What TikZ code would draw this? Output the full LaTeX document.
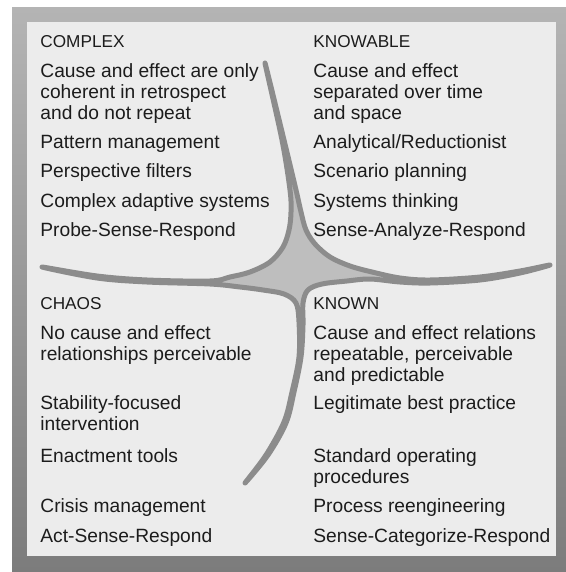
\documentclass[tikz,border=0pt]{standalone}
\usepackage{fontspec}
\setmainfont{Liberation Sans}
\definecolor{fondo}{HTML}{ECECEC}
\definecolor{marcosup}{HTML}{B4B4B4}
\definecolor{marcoinf}{HTML}{7C7C7C}
\definecolor{curva}{HTML}{8C8C8C}
\definecolor{estrella}{HTML}{BEBEBE}
\definecolor{letra}{HTML}{1C1C1C}
\tikzset{
    titulo/.style={anchor=base west,inner sep=0pt,text=letra,font=\fontsize{8.6}{10}\selectfont},
    item/.style={anchor=base west,inner sep=0pt,text=letra,font=\fontsize{9.6}{10.5}\selectfont}
}
\begin{document}
\begin{tikzpicture}[x=0.5pt,y=-0.5pt]
        %Marco
        \useasboundingbox (0,0) rectangle (566,572);
        \shade[top color=marcosup,bottom color=marcoinf] (12,8) rectangle (566,572);
        \fill[fondo] (27,22) rectangle (556,556);
        %Estrella central
        \filldraw[fill=estrella,draw=curva,line width=2.5pt,line join=round]
            plot[smooth cycle,tension=0.55] coordinates {
            (265,63) (284,140) (296,190) (301,212) (306,230) (315,244) (330,257) (350,266)
            (372,272) (400,278) (430,280) (480,277) (520,271) (550,265)
            (520,273) (480,280) (430,283) (400,282) (370,279) (347,281) (322,284) (308,290)
            (303,303) (303,325) (301,357) (294,392) (286,423) (268,455) (245,483)
            (266,455) (284,422) (292,392) (299,357) (299,322) (296,303) (284,294) (263,290)
            (240,287) (210,284) (147,282) (97,278) (42,267)
            (97,276) (147,280) (210,281) (230,277) (250,272) (270,262) (283,247) (289,230)
            (291,212) (290,190) (282,140)};
        %Titulos
        \node[titulo] (complex) at (40,48) {COMPLEX};
        \node[titulo] (knowable) at (313,48) {KNOWABLE};
        \node[titulo] (chaos) at (40,309) {CHAOS};
        \node[titulo] (known) at (313,309) {KNOWN};
        %Textos
        \foreach \y/\texto [count=\i] in {78/Cause and effect are only,99/coherent in retrospect,
            120/and do not repeat,149/Pattern management,178/Perspective filters,
            207/Complex adaptive systems,236/Probe-Sense-Respond}
            \node[item] (complex\i) at (40,\y) {\texto};
        \foreach \y/\texto [count=\i] in {78/Cause and effect,99/separated over time,
            120/and space,149/{Analytical/Reductionist},178/Scenario planning,
            207/Systems thinking,236/Sense-Analyze-Respond}
            \node[item] (knowable\i) at (313,\y) {\texto};
        \foreach \y/\texto [count=\i] in {339/No cause and effect,360/relationships perceivable,
            409/Stability-focused,430/intervention,462/Enactment tools,
            512/Crisis management,542/Act-Sense-Respond}
            \node[item] (chaos\i) at (40,\y) {\texto};
        \foreach \y/\texto [count=\i] in {339/Cause and effect relations,360/{repeatable, perceivable},
            381/and predictable,409/Legitimate best practice,462/Standard operating,
            483/procedures,512/Process reengineering,542/Sense-Categorize-Respond}
            \node[item] (known\i) at (313,\y) {\texto};
\end{tikzpicture}
\end{document}
